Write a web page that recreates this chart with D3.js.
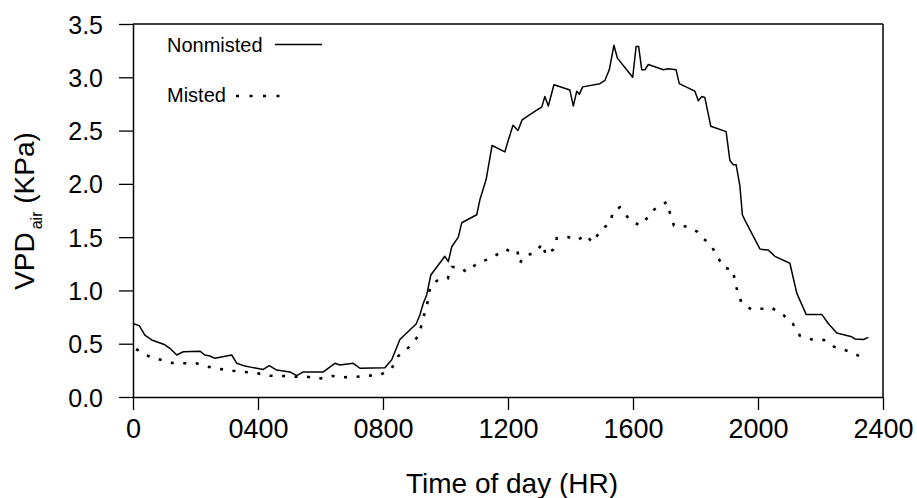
<!DOCTYPE html>
<html>
<head>
<meta charset="utf-8">
<script src="https://cdn.jsdelivr.net/npm/d3@7"></script>
<style>
  html, body { margin: 0; padding: 0; background: #fff; }
  svg { display: block; }
  text { font-family: "Liberation Sans", Arial, sans-serif; fill: #000; }
</style>
</head>
<body>
<svg id="chart" width="917" height="498"></svg>
<script>
// ---- data (time in hours of day, VPD in kPa) ----
const nonmistedTime = [0.0,0.2,0.38,0.6,1.02,1.18,1.4,1.61,2.14,2.3,2.46,2.62,3.16,3.32,3.58,3.8,4.17,4.36,4.6,5.02,5.24,5.45,6.09,6.46,6.62,7.05,7.26,8.06,8.28,8.54,9.06,9.18,9.29,9.4,9.53,9.98,10.09,10.2,10.41,10.52,11.0,11.1,11.3,11.49,11.9,12.0,12.16,12.32,12.45,12.7,12.96,13.08,13.18,13.29,13.47,13.98,14.09,14.2,14.28,14.39,14.94,15.1,15.24,15.39,15.5,15.99,16.1,16.18,16.28,16.38,16.49,16.97,17.13,17.38,17.48,17.98,18.09,18.2,18.3,18.49,18.98,19.1,19.21,19.3,19.42,19.5,19.58,20.06,20.12,20.33,20.54,21.02,21.24,21.54,22.04,22.25,22.52,23.0,23.1,23.37,23.53];
const nonmistedVPD  = [0.69,0.67,0.58,0.535,0.49,0.457,0.394,0.425,0.43,0.394,0.385,0.363,0.394,0.316,0.29,0.278,0.259,0.294,0.253,0.235,0.2,0.235,0.235,0.316,0.3,0.316,0.27,0.275,0.35,0.54,0.685,0.77,0.88,0.96,1.145,1.32,1.27,1.41,1.5,1.635,1.71,1.85,2.04,2.36,2.3,2.4,2.55,2.5,2.6,2.65,2.7,2.72,2.82,2.73,2.93,2.88,2.73,2.87,2.84,2.91,2.94,2.97,3.07,3.3,3.18,3.0,3.29,3.29,3.07,3.07,3.12,3.07,3.08,3.07,2.94,2.87,2.78,2.82,2.81,2.54,2.49,2.22,2.18,2.18,1.98,1.71,1.66,1.39,1.385,1.38,1.32,1.255,0.975,0.775,0.775,0.69,0.6,0.565,0.545,0.54,0.56];

const mistedTime = [0.1,0.44,0.81,1.24,1.61,2.02,2.38,2.78,3.19,3.58,3.98,4.38,4.81,5.18,5.56,5.96,6.36,6.75,7.16,7.53,7.9,8.28,8.49,8.84,9.11,9.24,9.34,9.45,9.5,9.72,10.07,10.2,10.46,10.66,11.05,11.34,11.55,11.94,12.15,12.3,12.38,12.51,12.86,13.11,13.21,13.45,13.56,13.93,14.2,14.5,14.7,15.0,15.26,15.37,15.58,15.9,16.22,16.44,16.68,17.08,17.18,17.31,17.72,18.06,18.27,18.46,18.68,18.91,19.18,19.26,19.34,19.48,19.8,20.17,20.42,20.81,21.11,21.34,21.72,22.11,22.44,22.84,23.24];
const mistedVPD  = [0.45,0.39,0.355,0.32,0.316,0.316,0.285,0.263,0.247,0.235,0.222,0.2,0.197,0.19,0.19,0.172,0.197,0.185,0.19,0.2,0.204,0.27,0.385,0.47,0.565,0.68,0.8,0.915,1.03,1.09,1.11,1.22,1.22,1.175,1.26,1.29,1.32,1.385,1.355,1.37,1.255,1.32,1.355,1.44,1.33,1.385,1.49,1.5,1.47,1.52,1.45,1.575,1.63,1.745,1.78,1.66,1.61,1.675,1.76,1.83,1.73,1.61,1.6,1.55,1.48,1.44,1.33,1.21,1.2,1.1,0.99,0.88,0.82,0.83,0.84,0.77,0.69,0.575,0.54,0.535,0.47,0.435,0.385];

const xTickValues = [0, 4, 8, 12, 16, 20, 24];
const xTickLabels = ["0", "0400", "0800", "1200", "1600", "2000", "2400"];
const yTickValues = [0, 0.5, 1.0, 1.5, 2.0, 2.5, 3.0, 3.5];
const seriesNames = ["Nonmisted", "Misted"];

// ---- layout ----
const mLeft = 133, mRight = 883, mTop = 24, mBottom = 397;
const svg = d3.select("#chart");

const x = d3.scaleLinear().domain([0, 24]).range([mLeft, mRight]);
const y = d3.scaleLinear().domain([0, 3.5]).range([mBottom, mTop]);

// frame (top & right)
svg.append("line").attr("x1", mLeft).attr("x2", mRight).attr("y1", mTop).attr("y2", mTop)
  .attr("stroke", "#000").attr("stroke-width", 1.5);
svg.append("line").attr("x1", mRight).attr("x2", mRight).attr("y1", mTop).attr("y2", mBottom)
  .attr("stroke", "#000").attr("stroke-width", 1.5);

// x axis
const xAxis = d3.axisBottom(x).tickValues(xTickValues)
  .tickFormat((d, i) => xTickLabels[i]).tickSize(13).tickSizeOuter(0).tickPadding(7);
const gx = svg.append("g").attr("transform", `translate(0,${mBottom})`).call(xAxis);
gx.select(".domain").attr("stroke", "#000").attr("stroke-width", 1.5);
gx.selectAll(".tick line").attr("stroke", "#000").attr("stroke-width", 1.3);
gx.selectAll(".tick text").attr("font-size", 27).attr("font-family", "Liberation Sans, Arial, sans-serif")
  .attr("dy", null).attr("y", 41);

// y axis
const yAxis = d3.axisLeft(y).tickValues(yTickValues)
  .tickFormat(d3.format(".1f")).tickSize(14).tickSizeOuter(0).tickPadding(16);
const gy = svg.append("g").attr("transform", `translate(${mLeft},0)`).call(yAxis);
gy.select(".domain").attr("stroke", "#000").attr("stroke-width", 1.5);
gy.selectAll(".tick line").attr("stroke", "#000").attr("stroke-width", 1.3);
gy.selectAll(".tick text").attr("font-size", 25).attr("font-family", "Liberation Sans, Arial, sans-serif")
  .attr("dy", "0.36em");

// axis titles
svg.append("text").attr("x", 512).attr("y", 493).attr("text-anchor", "middle")
  .attr("font-size", 28).text("Time of day (HR)");

const yt = svg.append("text").attr("transform", "translate(34,211) rotate(-90)")
  .attr("text-anchor", "middle").attr("font-size", 28);
yt.append("tspan").text("VPD");
yt.append("tspan").attr("font-size", 16).attr("dy", 8).attr("dx", 3).text("air");
yt.append("tspan").attr("dy", -8).text(" (KPa)");

// lines
const line = d3.line().x(d => x(d[0])).y(d => y(d[1]));
const nonData = nonmistedTime.map((t, i) => [t, nonmistedVPD[i]]);
const misData = mistedTime.map((t, i) => [t, mistedVPD[i]]);

svg.append("path").datum(nonData).attr("d", line)
  .attr("fill", "none").attr("stroke", "#000").attr("stroke-width", 1.5).attr("stroke-linejoin", "round");
svg.append("path").datum(misData).attr("d", line)
  .attr("fill", "none").attr("stroke", "#000").attr("stroke-width", 2.6)
  .attr("stroke-dasharray", "3,9.5");

// legend
svg.append("text").attr("x", 167).attr("y", 51.5).attr("font-size", 20).text(seriesNames[0]);
svg.append("line").attr("x1", 275).attr("x2", 322).attr("y1", 44.5).attr("y2", 44.5)
  .attr("stroke", "#000").attr("stroke-width", 1.5);
svg.append("text").attr("x", 167).attr("y", 101.5).attr("font-size", 20).text(seriesNames[1]);
svg.append("line").attr("x1", 236).attr("x2", 280).attr("y1", 96).attr("y2", 96)
  .attr("stroke", "#000").attr("stroke-width", 2.6).attr("stroke-dasharray", "3,10.5");
</script>
</body>
</html>
